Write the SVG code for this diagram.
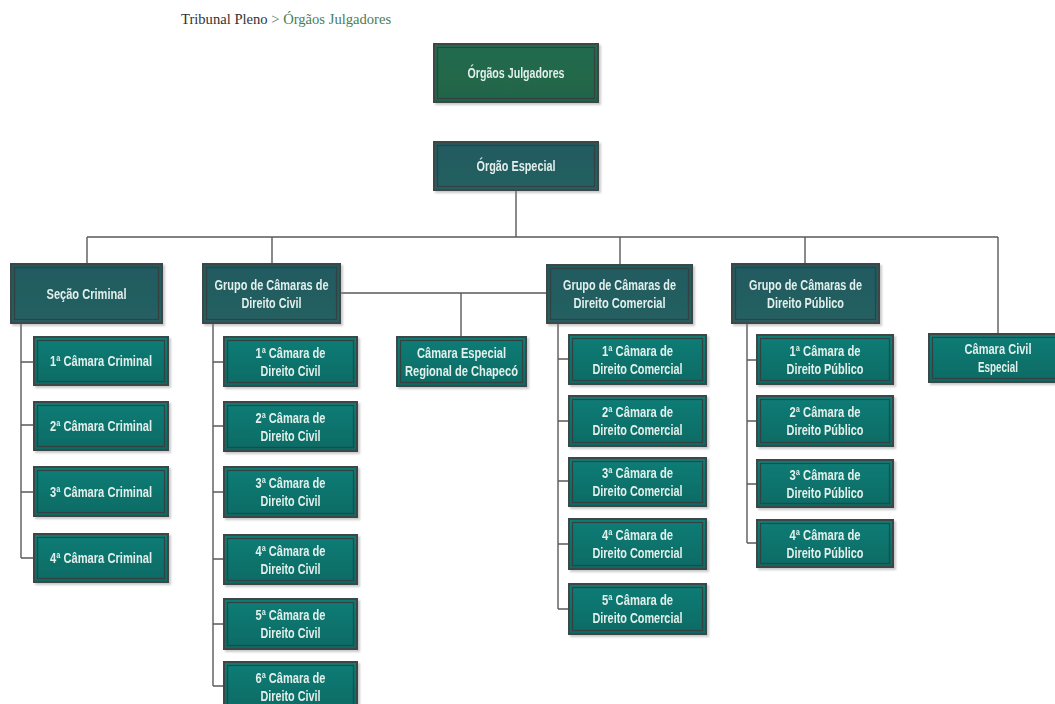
<svg xmlns="http://www.w3.org/2000/svg" width="1055" height="704" viewBox="0 0 1055 704">
  <style>
    .crumb { font-family: "Liberation Serif", serif; font-size: 14.6px; }
    .lbl { font-family: "Liberation Sans", Arial, sans-serif; font-weight: bold; font-size: 14px; fill: #e2efeb; text-anchor: middle; }
    .outer { stroke: #3d4746; stroke-width: 2; }
    .inner { fill: none; stroke: #34403f; stroke-width: 1.2; }
    .root .outer { fill: url(#gRoot); }
    .head .outer { fill: url(#gHead); }
    .unit .outer { fill: url(#gUnit); }
    #connectors path { fill: none; stroke: #5a5a5a; stroke-width: 1.4; }
  </style>
  <defs>
    <linearGradient id="gRoot" x1="0" y1="0" x2="0" y2="1">
      <stop offset="0" stop-color="#246c4f"/>
      <stop offset="1" stop-color="#1f6447"/>
    </linearGradient>
    <linearGradient id="gHead" x1="0" y1="0" x2="0" y2="1">
      <stop offset="0" stop-color="#1f5b60"/>
      <stop offset="1" stop-color="#265f62"/>
    </linearGradient>
    <linearGradient id="gUnit" x1="0" y1="0" x2="0" y2="1">
      <stop offset="0" stop-color="#0f7d76"/>
      <stop offset="1" stop-color="#0c6a64"/>
    </linearGradient>
    <filter id="shadow" x="-10%" y="-10%" width="125%" height="135%">
      <feDropShadow dx="2" dy="2" stdDeviation="1.2" flood-color="#888" flood-opacity="0.45"/>
    </filter>
  </defs>

  <rect width="1055" height="704" fill="#ffffff"/>

  <!-- breadcrumb -->
  <text class="crumb" x="181" y="24"><tspan fill="#333333">Tribunal Pleno</tspan><tspan fill="#4a7d56"> &gt; Órgãos Julgadores</tspan></text>

  <!-- connectors -->
  <g id="connectors">
    <path d="M516 190 V237 M87 237 H998 M87 237 V264 M272 237 V264 M620 237 V266 M805 237 V264 M998 237 V334"/>
    <path d="M340 293 H547 M461 293 V337"/>
    <path d="M21 323 V558 M21 362 H34 M21 425 H34 M21 492 H34 M21 558 H34"/>
    <path d="M213 323 V686 M213 362 H224 M213 426 H224 M213 492 H224 M213 559 H224 M213 624 H224 M213 686 H224"/>
    <path d="M558 323 V609 M558 359 H569 M558 421 H569 M558 481 H569 M558 544 H569 M558 609 H569"/>
    <path d="M747 323 V543 M747 360 H757 M747 421 H757 M747 484 H757 M747 543 H757"/>
  </g>

  <!-- top level -->
  <g id="orgaos-julgadores" class="root" filter="url(#shadow)">
    <rect class="outer" x="434" y="44" width="164" height="58"/>
    <rect class="inner" x="437.5" y="47.5" width="157" height="51"/>
    <text class="lbl" x="516" y="78" textLength="97" lengthAdjust="spacingAndGlyphs">Órgãos Julgadores</text>
  </g>

  <g id="orgao-especial" class="head" filter="url(#shadow)">
    <rect class="outer" x="434" y="142" width="164" height="48"/>
    <rect class="inner" x="437.5" y="145.5" width="157" height="41"/>
    <text class="lbl" x="516" y="171" textLength="79" lengthAdjust="spacingAndGlyphs">Órgão Especial</text>
  </g>

  <!-- second level -->
  <g id="secao-criminal" class="head" filter="url(#shadow)">
    <rect class="outer" x="11" y="264" width="151" height="59"/>
    <rect class="inner" x="14.5" y="267.5" width="144" height="52"/>
    <text class="lbl" x="86.5" y="298.5" textLength="80" lengthAdjust="spacingAndGlyphs">Seção Criminal</text>
  </g>

  <g id="grupo-civil" class="head" filter="url(#shadow)">
    <rect class="outer" x="203" y="264" width="137" height="59"/>
    <rect class="inner" x="206.5" y="267.5" width="130" height="52"/>
    <text class="lbl" x="271.5" y="289.5" textLength="114" lengthAdjust="spacingAndGlyphs">Grupo de Câmaras de</text>
    <text class="lbl" x="271.5" y="307.5" textLength="60" lengthAdjust="spacingAndGlyphs">Direito Civil</text>
  </g>

  <g id="grupo-comercial" class="head" filter="url(#shadow)">
    <rect class="outer" x="547" y="265" width="145" height="58"/>
    <rect class="inner" x="550.5" y="268.5" width="138" height="51"/>
    <text class="lbl" x="619.5" y="290" textLength="113" lengthAdjust="spacingAndGlyphs">Grupo de Câmaras de</text>
    <text class="lbl" x="619.5" y="308" textLength="92" lengthAdjust="spacingAndGlyphs">Direito Comercial</text>
  </g>

  <g id="grupo-publico" class="head" filter="url(#shadow)">
    <rect class="outer" x="732" y="264" width="147" height="59"/>
    <rect class="inner" x="735.5" y="267.5" width="140" height="52"/>
    <text class="lbl" x="805.5" y="289.5" textLength="113" lengthAdjust="spacingAndGlyphs">Grupo de Câmaras de</text>
    <text class="lbl" x="805.5" y="307.5" textLength="77" lengthAdjust="spacingAndGlyphs">Direito Público</text>
  </g>

  <g id="camara-chapeco" class="unit" filter="url(#shadow)">
    <rect class="outer" x="397" y="337" width="129" height="49"/>
    <rect class="inner" x="400.5" y="340.5" width="122" height="42"/>
    <text class="lbl" x="461.5" y="357.5" textLength="89" lengthAdjust="spacingAndGlyphs">Câmara Especial</text>
    <text class="lbl" x="461.5" y="375.5" textLength="113" lengthAdjust="spacingAndGlyphs">Regional de Chapecó</text>
  </g>

  <g id="camara-civil-especial" class="unit" filter="url(#shadow)">
    <rect class="outer" x="929" y="334" width="132" height="48"/>
    <rect class="inner" x="932.5" y="337.5" width="125" height="41"/>
    <text class="lbl" x="998" y="354" textLength="67" lengthAdjust="spacingAndGlyphs">Câmara Civil</text>
    <text class="lbl" x="998" y="372" textLength="40" lengthAdjust="spacingAndGlyphs">Especial</text>
  </g>

  <!-- criminal chambers -->
  <g id="criminal-1" class="unit" filter="url(#shadow)">
    <rect class="outer" x="34" y="337" width="134" height="48"/>
    <rect class="inner" x="37.5" y="340.5" width="127" height="41"/>
    <text class="lbl" x="101" y="366" textLength="102" lengthAdjust="spacingAndGlyphs">1ª Câmara Criminal</text>
  </g>
  <g id="criminal-2" class="unit" filter="url(#shadow)">
    <rect class="outer" x="34" y="402" width="134" height="48"/>
    <rect class="inner" x="37.5" y="405.5" width="127" height="41"/>
    <text class="lbl" x="101" y="431" textLength="102" lengthAdjust="spacingAndGlyphs">2ª Câmara Criminal</text>
  </g>
  <g id="criminal-3" class="unit" filter="url(#shadow)">
    <rect class="outer" x="34" y="467" width="134" height="49"/>
    <rect class="inner" x="37.5" y="470.5" width="127" height="42"/>
    <text class="lbl" x="101" y="496.5" textLength="102" lengthAdjust="spacingAndGlyphs">3ª Câmara Criminal</text>
  </g>
  <g id="criminal-4" class="unit" filter="url(#shadow)">
    <rect class="outer" x="34" y="534" width="134" height="48"/>
    <rect class="inner" x="37.5" y="537.5" width="127" height="41"/>
    <text class="lbl" x="101" y="563" textLength="102" lengthAdjust="spacingAndGlyphs">4ª Câmara Criminal</text>
  </g>

  <!-- civil chambers -->
  <g id="civil-1" class="unit" filter="url(#shadow)">
    <rect class="outer" x="224" y="337" width="133" height="49"/>
    <rect class="inner" x="227.5" y="340.5" width="126" height="42"/>
    <text class="lbl" x="290.5" y="357.5" textLength="70" lengthAdjust="spacingAndGlyphs">1ª Câmara de</text>
    <text class="lbl" x="290.5" y="375.5" textLength="60" lengthAdjust="spacingAndGlyphs">Direito Civil</text>
  </g>
  <g id="civil-2" class="unit" filter="url(#shadow)">
    <rect class="outer" x="224" y="402" width="133" height="49"/>
    <rect class="inner" x="227.5" y="405.5" width="126" height="42"/>
    <text class="lbl" x="290.5" y="422.5" textLength="70" lengthAdjust="spacingAndGlyphs">2ª Câmara de</text>
    <text class="lbl" x="290.5" y="440.5" textLength="60" lengthAdjust="spacingAndGlyphs">Direito Civil</text>
  </g>
  <g id="civil-3" class="unit" filter="url(#shadow)">
    <rect class="outer" x="224" y="467" width="133" height="50"/>
    <rect class="inner" x="227.5" y="470.5" width="126" height="43"/>
    <text class="lbl" x="290.5" y="488" textLength="70" lengthAdjust="spacingAndGlyphs">3ª Câmara de</text>
    <text class="lbl" x="290.5" y="506" textLength="60" lengthAdjust="spacingAndGlyphs">Direito Civil</text>
  </g>
  <g id="civil-4" class="unit" filter="url(#shadow)">
    <rect class="outer" x="224" y="535" width="133" height="49"/>
    <rect class="inner" x="227.5" y="538.5" width="126" height="42"/>
    <text class="lbl" x="290.5" y="555.5" textLength="70" lengthAdjust="spacingAndGlyphs">4ª Câmara de</text>
    <text class="lbl" x="290.5" y="573.5" textLength="60" lengthAdjust="spacingAndGlyphs">Direito Civil</text>
  </g>
  <g id="civil-5" class="unit" filter="url(#shadow)">
    <rect class="outer" x="224" y="599" width="133" height="50"/>
    <rect class="inner" x="227.5" y="602.5" width="126" height="43"/>
    <text class="lbl" x="290.5" y="620" textLength="70" lengthAdjust="spacingAndGlyphs">5ª Câmara de</text>
    <text class="lbl" x="290.5" y="638" textLength="60" lengthAdjust="spacingAndGlyphs">Direito Civil</text>
  </g>
  <g id="civil-6" class="unit" filter="url(#shadow)">
    <rect class="outer" x="224" y="662" width="133" height="49"/>
    <rect class="inner" x="227.5" y="665.5" width="126" height="42"/>
    <text class="lbl" x="290.5" y="682.5" textLength="70" lengthAdjust="spacingAndGlyphs">6ª Câmara de</text>
    <text class="lbl" x="290.5" y="700.5" textLength="60" lengthAdjust="spacingAndGlyphs">Direito Civil</text>
  </g>

  <!-- commercial chambers -->
  <g id="comercial-1" class="unit" filter="url(#shadow)">
    <rect class="outer" x="569" y="335" width="137" height="49"/>
    <rect class="inner" x="572.5" y="338.5" width="130" height="42"/>
    <text class="lbl" x="637.5" y="355.5" textLength="71" lengthAdjust="spacingAndGlyphs">1ª Câmara de</text>
    <text class="lbl" x="637.5" y="373.5" textLength="90" lengthAdjust="spacingAndGlyphs">Direito Comercial</text>
  </g>
  <g id="comercial-2" class="unit" filter="url(#shadow)">
    <rect class="outer" x="569" y="396" width="137" height="50"/>
    <rect class="inner" x="572.5" y="399.5" width="130" height="43"/>
    <text class="lbl" x="637.5" y="417" textLength="71" lengthAdjust="spacingAndGlyphs">2ª Câmara de</text>
    <text class="lbl" x="637.5" y="435" textLength="90" lengthAdjust="spacingAndGlyphs">Direito Comercial</text>
  </g>
  <g id="comercial-3" class="unit" filter="url(#shadow)">
    <rect class="outer" x="569" y="458" width="137" height="48"/>
    <rect class="inner" x="572.5" y="461.5" width="130" height="41"/>
    <text class="lbl" x="637.5" y="478" textLength="71" lengthAdjust="spacingAndGlyphs">3ª Câmara de</text>
    <text class="lbl" x="637.5" y="496" textLength="90" lengthAdjust="spacingAndGlyphs">Direito Comercial</text>
  </g>
  <g id="comercial-4" class="unit" filter="url(#shadow)">
    <rect class="outer" x="569" y="519" width="137" height="50"/>
    <rect class="inner" x="572.5" y="522.5" width="130" height="43"/>
    <text class="lbl" x="637.5" y="540" textLength="71" lengthAdjust="spacingAndGlyphs">4ª Câmara de</text>
    <text class="lbl" x="637.5" y="558" textLength="90" lengthAdjust="spacingAndGlyphs">Direito Comercial</text>
  </g>
  <g id="comercial-5" class="unit" filter="url(#shadow)">
    <rect class="outer" x="569" y="584" width="137" height="50"/>
    <rect class="inner" x="572.5" y="587.5" width="130" height="43"/>
    <text class="lbl" x="637.5" y="605" textLength="71" lengthAdjust="spacingAndGlyphs">5ª Câmara de</text>
    <text class="lbl" x="637.5" y="623" textLength="90" lengthAdjust="spacingAndGlyphs">Direito Comercial</text>
  </g>

  <!-- public law chambers -->
  <g id="publico-1" class="unit" filter="url(#shadow)">
    <rect class="outer" x="757" y="335" width="136" height="49"/>
    <rect class="inner" x="760.5" y="338.5" width="129" height="42"/>
    <text class="lbl" x="825" y="355.5" textLength="71" lengthAdjust="spacingAndGlyphs">1ª Câmara de</text>
    <text class="lbl" x="825" y="373.5" textLength="77" lengthAdjust="spacingAndGlyphs">Direito Público</text>
  </g>
  <g id="publico-2" class="unit" filter="url(#shadow)">
    <rect class="outer" x="757" y="396" width="136" height="50"/>
    <rect class="inner" x="760.5" y="399.5" width="129" height="43"/>
    <text class="lbl" x="825" y="417" textLength="71" lengthAdjust="spacingAndGlyphs">2ª Câmara de</text>
    <text class="lbl" x="825" y="435" textLength="77" lengthAdjust="spacingAndGlyphs">Direito Público</text>
  </g>
  <g id="publico-3" class="unit" filter="url(#shadow)">
    <rect class="outer" x="757" y="460" width="136" height="47"/>
    <rect class="inner" x="760.5" y="463.5" width="129" height="40"/>
    <text class="lbl" x="825" y="479.5" textLength="71" lengthAdjust="spacingAndGlyphs">3ª Câmara de</text>
    <text class="lbl" x="825" y="497.5" textLength="77" lengthAdjust="spacingAndGlyphs">Direito Público</text>
  </g>
  <g id="publico-4" class="unit" filter="url(#shadow)">
    <rect class="outer" x="757" y="520" width="136" height="47"/>
    <rect class="inner" x="760.5" y="523.5" width="129" height="40"/>
    <text class="lbl" x="825" y="539.5" textLength="71" lengthAdjust="spacingAndGlyphs">4ª Câmara de</text>
    <text class="lbl" x="825" y="557.5" textLength="77" lengthAdjust="spacingAndGlyphs">Direito Público</text>
  </g>
</svg>
